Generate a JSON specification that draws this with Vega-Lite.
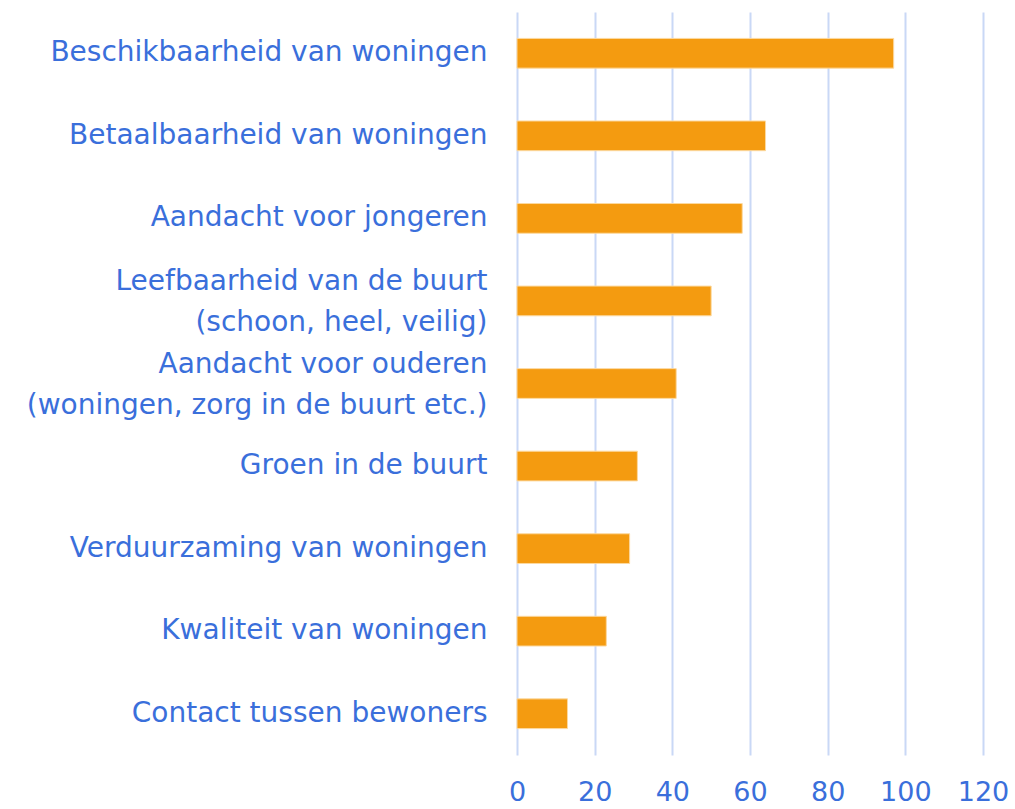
{
  "$schema": "https://vega.github.io/schema/vega-lite/v6.json",
  "autosize": "none",
  "width": 466,
  "height": 743,
  "padding": {"left": 517, "top": 12, "right": 32, "bottom": 54},
  "background": "white",
  "data": {
    "values": [
      {"order": 1, "item": "Beschikbaarheid van woningen", "value": 97},
      {"order": 2, "item": "Betaalbaarheid van woningen", "value": 64},
      {"order": 3, "item": "Aandacht voor jongeren", "value": 58},
      {"order": 4, "item": "Leefbaarheid van de buurt|(schoon, heel, veilig)", "value": 50},
      {"order": 5, "item": "Aandacht voor ouderen|(woningen, zorg in de buurt etc.)", "value": 41},
      {"order": 6, "item": "Groen in de buurt", "value": 31},
      {"order": 7, "item": "Verduurzaming van woningen", "value": 29},
      {"order": 8, "item": "Kwaliteit van woningen", "value": 23},
      {"order": 9, "item": "Contact tussen bewoners", "value": 13}
    ]
  },
  "mark": {"type": "bar", "color": "#F49B10", "stroke": "#FCD9A0", "strokeWidth": 1},
  "encoding": {
    "y": {
      "field": "item",
      "type": "nominal",
      "sort": {"field": "order", "op": "min", "order": "ascending"},
      "scale": {"paddingInner": 0.64, "paddingOuter": 0.32},
      "axis": {
        "title": null,
        "domain": false,
        "ticks": false,
        "labelExpr": "split(datum.label, '|')",
        "labelFont": "DejaVu Sans",
        "labelFontSize": 28,
        "labelColor": "#3A6FDB",
        "labelPadding": 30,
        "labelLineHeight": 41,
        "labelLimit": 600,
        "labelOffset": {"condition": {"test": "indexof(datum.value, '|') >= 0", "value": -19}, "value": 0}
      }
    },
    "x": {
      "field": "value",
      "type": "quantitative",
      "scale": {"domain": [0, 120], "nice": false},
      "axis": {
        "title": null,
        "values": [0, 20, 40, 60, 80, 100, 120],
        "domain": false,
        "ticks": false,
        "grid": true,
        "gridColor": "#C9D8F6",
        "gridWidth": 2,
        "labelFont": "DejaVu Sans",
        "labelFontSize": 27,
        "labelColor": "#3A6FDB",
        "labelPadding": 24,
        "labelFlush": false
      }
    }
  },
  "config": {"view": {"stroke": null}}
}
